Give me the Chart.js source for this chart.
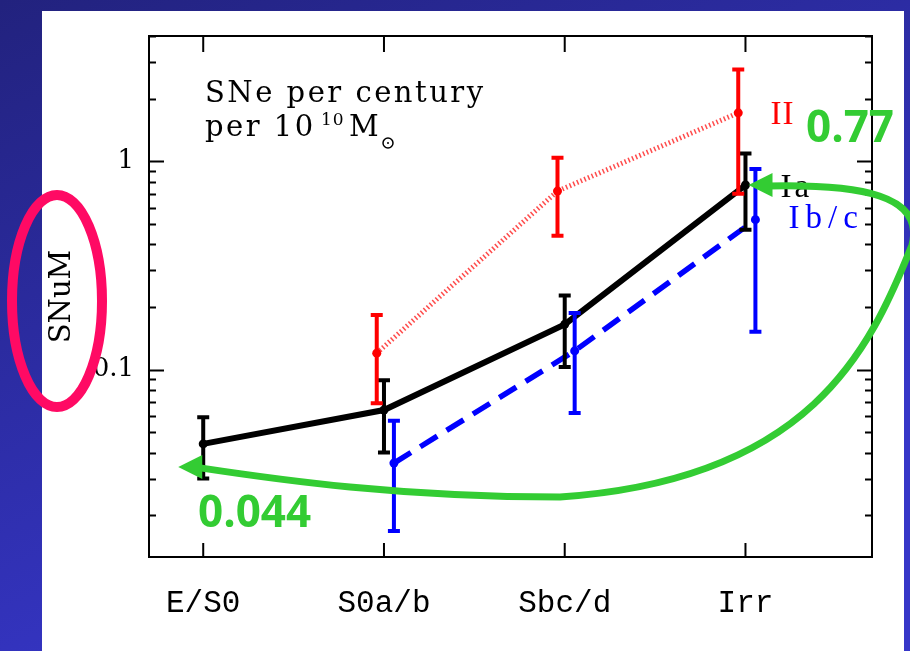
<!DOCTYPE html>
<html>
<head>
<meta charset="utf-8">
<title>SNuM by galaxy type</title>
<script src="https://cdn.jsdelivr.net/npm/chart.js@4.4.1/dist/chart.umd.min.js"></script>
<style>
  html, body { margin: 0; padding: 0; background: #2a2a9c; }
  canvas { display: block; }
</style>
</head>
<body>
<canvas id="myChart" width="910" height="651"></canvas>
<script>
// SN rates per unit mass (SNuM) for each Hubble type

const categories = ['E/S0', 'S0a/b', 'Sbc/d', 'Irr'];
const yTickLabels = [0.1, 1];

// type Ia
const ia = [0.044, 0.064, 0.165, 0.77];
const iaLow = [0.030, 0.040, 0.103, 0.47];
const iaHigh = [0.059, 0.089, 0.227, 1.09];

// type II (nothing for E/S0)
const ii = [null, 0.12, 0.72, 1.71];
const iiLow = [null, 0.069, 0.44, 0.70];
const iiHigh = [null, 0.183, 1.04, 2.76];

// type Ib/c (nothing for E/S0)
const ibc = [null, 0.0356, 0.123, 0.525];
const ibcLow = [null, 0.0168, 0.062, 0.152];
const ibcHigh = [null, 0.0569, 0.187, 0.92];

// small sideways shift so the error bars don't sit on top of each other
const SHIFT_II = -0.04;
const SHIFT_IBC = 0.055;

const toPoints = (vals, lows, highs, shift) =>
  vals
    .map((v, i) => (v === null ? null : { x: i + shift, y: v, lo: lows[i], hi: highs[i] }))
    .filter(Boolean);

const GREEN = '#33cc33';

// blue gradient behind the white panel
const background = {
  id: 'background',
  beforeDraw(chart) {
    const { ctx, width, height } = chart;
    ctx.save();
    const g = ctx.createLinearGradient(0, 0, width * 0.3, height);
    g.addColorStop(0, '#22227e');
    g.addColorStop(1, '#3636c8');
    ctx.fillStyle = g;
    ctx.fillRect(0, 0, width, height);
    ctx.fillStyle = '#ffffff';
    ctx.fillRect(42, 11, 862, height - 11);
    ctx.restore();
  },
};

// box around the plot with inward ticks on all four sides
const frame = {
  id: 'frame',
  beforeDatasetsDraw(chart) {
    const { ctx, chartArea: a, scales: { x, y } } = chart;
    ctx.save();
    ctx.strokeStyle = '#000';
    ctx.lineWidth = 2;
    ctx.strokeRect(a.left, a.top, a.right - a.left, a.bottom - a.top);

    ctx.beginPath();
    categories.forEach((c, i) => {
      const px = x.getPixelForValue(i);
      ctx.moveTo(px, a.bottom);
      ctx.lineTo(px, a.bottom - 14);
      ctx.moveTo(px, a.top);
      ctx.lineTo(px, a.top + 16);
    });
    for (let dec = 0.01; dec <= 1; dec *= 10) {
      for (let m = 1; m <= 9; m++) {
        const v = m * dec;
        if (v < y.min || v > y.max) continue;
        const py = Math.round(y.getPixelForValue(v)) + 0.5;
        const len = m === 1 ? 15 : 7;
        ctx.moveTo(a.left, py);
        ctx.lineTo(a.left + len, py);
        ctx.moveTo(a.right, py);
        ctx.lineTo(a.right - len, py);
      }
    }
    ctx.stroke();
    ctx.restore();
  },
};

const errorBars = {
  id: 'errorBars',
  afterDatasetsDraw(chart) {
    const { ctx, scales: { x, y } } = chart;
    ctx.save();
    ctx.lineWidth = 4;
    ctx.setLineDash([]);
    chart.data.datasets.forEach((ds) => {
      ctx.strokeStyle = ds.errColor;
      ctx.beginPath();
      ds.data.forEach((p) => {
        const px = x.getPixelForValue(p.x);
        const top = y.getPixelForValue(p.hi);
        const bot = y.getPixelForValue(p.lo);
        ctx.moveTo(px, top);
        ctx.lineTo(px, bot);
        ctx.moveTo(px - 6, top);
        ctx.lineTo(px + 6, top);
        ctx.moveTo(px - 6, bot);
        ctx.lineTo(px + 6, bot);
      });
      ctx.stroke();
    });
    ctx.restore();
  },
};

const arrowHead = (ctx, tx, ty, len, half) => {
  ctx.beginPath();
  ctx.moveTo(tx, ty);
  ctx.lineTo(tx + len, ty - half);
  ctx.lineTo(tx + len, ty + half);
  ctx.closePath();
  ctx.fill();
};

// labels, units and the highlighted values
const notes = {
  id: 'notes',
  afterDraw(chart) {
    const { ctx, scales: { x, y } } = chart;
    ctx.save();
    ctx.textBaseline = 'alphabetic';
    ctx.textAlign = 'left';

    // units text
    ctx.fillStyle = '#000';
    ctx.font = '29px "DejaVu Serif"';
    ctx.letterSpacing = '2.5px';
    ctx.fillText('SNe per century', 205, 102);
    ctx.fillText('per 10', 205, 136);
    ctx.font = '17px "DejaVu Serif"';
    ctx.letterSpacing = '1px';
    ctx.fillText('10', 321, 125);
    ctx.font = '29px "DejaVu Serif"';
    ctx.fillText('M', 349, 136);
    ctx.lineWidth = 1.5;
    ctx.beginPath();
    ctx.arc(388, 143, 5, 0, Math.PI * 2);
    ctx.stroke();
    ctx.beginPath();
    ctx.arc(388, 143, 1, 0, Math.PI * 2);
    ctx.fill();

    // series names next to the Irr points
    const xi = x.getPixelForValue(3);
    ctx.font = '33px "Liberation Serif"';
    ctx.fillStyle = '#ff0000';
    ctx.letterSpacing = '1px';
    ctx.fillText('II', xi + 25, 124);
    ctx.fillStyle = '#000';
    ctx.letterSpacing = '3px';
    ctx.fillText('Ia', xi + 35, 197);
    ctx.fillStyle = '#0000ff';
    ctx.letterSpacing = '6px';
    ctx.fillText('Ib/c', xi + 43, 228);
    ctx.letterSpacing = '0px';

    // green arrow from the Irr Ia value round to the E/S0 one
    const t1x = xi + 3;
    const t1y = y.getPixelForValue(ia[3]);
    const t2x = x.getPixelForValue(0) - 25;
    const t2y = y.getPixelForValue(ia[0]) + 23;
    ctx.strokeStyle = GREEN;
    ctx.fillStyle = GREEN;
    ctx.lineWidth = 7;
    ctx.lineCap = 'round';
    ctx.beginPath();
    ctx.moveTo(t1x + 20, t1y + 1);
    ctx.bezierCurveTo(860, t1y - 1, 925, 195, 912, 245);
    ctx.bezierCurveTo(870, 350, 810, 480, 560, 497);
    ctx.bezierCurveTo(400, 497, 280, 480, t2x + 22, t2y + 1);
    ctx.stroke();
    arrowHead(ctx, t1x, t1y, 24, 12);
    arrowHead(ctx, t2x, t2y, 24, 12);

    ctx.font = 'bold 44px "Open Sans"';
    ctx.fillText('0.77', 806, 142);
    ctx.fillText('0.044', 198, 527);

    // ring around the axis title
    ctx.strokeStyle = '#ff0a64';
    ctx.lineWidth = 10;
    ctx.beginPath();
    ctx.ellipse(57, 301, 45, 106, 0, 0, Math.PI * 2);
    ctx.stroke();
    ctx.restore();
  },
};

const ctx = document.getElementById('myChart');

new Chart(ctx, {
  type: 'line',
  data: {
    datasets: [
      {
        label: 'Ia',
        data: toPoints(ia, iaLow, iaHigh, 0),
        borderColor: '#000000',
        backgroundColor: '#000000',
        errColor: '#000000',
        borderWidth: 6,
        pointRadius: 4.5,
        pointBorderWidth: 0,
      },
      {
        label: 'Ib/c',
        data: toPoints(ibc, ibcLow, ibcHigh, SHIFT_IBC),
        borderColor: '#0000ff',
        backgroundColor: '#0000ff',
        errColor: '#0000ff',
        borderWidth: 5.5,
        borderDash: [20, 11],
        pointRadius: 4.5,
        pointBorderWidth: 0,
      },
      {
        label: 'II',
        data: toPoints(ii, iiLow, iiHigh, SHIFT_II),
        borderColor: 'rgba(255, 30, 30, 0.8)',
        backgroundColor: '#ff0000',
        errColor: '#ff0000',
        borderWidth: 5,
        borderDash: [1.5, 2.5],
        pointRadius: 4.5,
        pointBorderWidth: 0,
      },
    ],
  },
  options: {
    responsive: false,
    animation: false,
    events: [],
    layout: { padding: { top: 36, right: 38, left: 0, bottom: 0 } },
    plugins: {
      legend: { display: false },
      tooltip: { enabled: false },
    },
    elements: { line: { tension: 0 } },
    scales: {
      x: {
        type: 'linear',
        min: -0.3,
        max: 3.7,
        afterBuildTicks: (s) => {
          s.ticks = categories.map((c, i) => ({ value: i }));
        },
        afterFit: (s) => {
          s.height = 94;
        },
        grid: { display: false },
        border: { display: false },
        ticks: {
          callback: (v) => categories[v],
          font: { family: 'Liberation Mono', size: 31 },
          color: '#000',
          padding: 20,
          maxRotation: 0,
          autoSkip: false,
        },
      },
      y: {
        type: 'logarithmic',
        min: 0.0126,
        max: 4,
        afterBuildTicks: (s) => {
          s.ticks = yTickLabels.map((v) => ({ value: v }));
        },
        afterFit: (s) => {
          s.width = 149;
        },
        grid: { display: false },
        border: { display: false },
        ticks: {
          callback: (v) => String(v),
          font: { family: 'DejaVu Serif', size: 26 },
          color: '#000',
          padding: 7,
        },
        title: {
          display: true,
          text: 'SNuM',
          font: { family: 'DejaVu Serif', size: 29 },
          color: '#000',
          padding: { top: 45, bottom: 0 },
        },
      },
    },
  },
  plugins: [background, frame, errorBars, notes],
});
</script>
</body>
</html>
